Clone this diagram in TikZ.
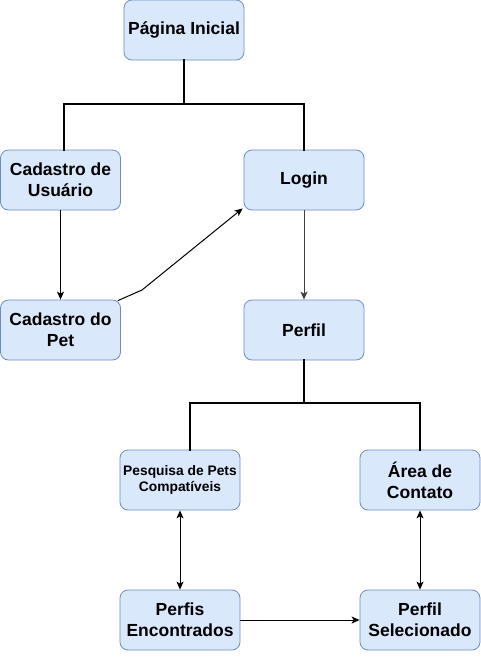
\documentclass[tikz,border=0pt]{standalone}
\usepackage{fontspec}
\setmainfont{Liberation Sans}
\usetikzlibrary{arrows.meta}
\definecolor{boxfill}{HTML}{DAE8FC}
\definecolor{boxdraw}{HTML}{6C8EBF}
\begin{document}
\begin{tikzpicture}[x=1pt,y=-1pt,
  box/.style={draw=boxdraw,fill=boxfill,rounded corners=8pt,minimum width=120pt,minimum height=60pt,inner sep=0pt,align=center,font=\bfseries\fontsize{17.5}{21}\selectfont,line width=0.8pt},
  tree/.style={line width=2pt,line cap=rect},
  arr/.style={line width=1pt,-{Stealth[length=8pt,width=7pt,inset=2pt]}},
  darr/.style={line width=1pt,{Stealth[length=8pt,width=7pt,inset=2pt]}-{Stealth[length=8pt,width=7pt,inset=2pt]}}]
\useasboundingbox (0,0) rectangle (481,657);
\node[box] (home) at (184,30) {Página Inicial};
\node[box] (cadu) at (60.5,180) {Cadastro de\\Usuário};
\node[box] (login) at (304,180) {Login};
\node[box] (cadp) at (60.5,330) {Cadastro do\\Pet};
\node[box] (perfil) at (304,330) {Perfil};
\node[box,font=\bfseries\fontsize{13.8}{16.5}\selectfont] (pesq) at (180,480) {Pesquisa de Pets\\Compatíveis};
\node[box] (area) at (420,480) {Área de\\Contato};
\node[box] (enc) at (180,620) {Perfis\\Encontrados};
\node[box] (sel) at (420,620) {Perfil\\Selecionado};
\coordinate (j1) at (184,104);
\coordinate (j2) at (304,403);
\coordinate (bend) at (142,290);
\draw[tree] (home.south) -- (j1) -| (cadu.north -| 64,0);
\draw[tree] (j1) -| (login.north);
\draw[tree] (perfil.south) -- (j2) -| (pesq.north -| 190,0);
\draw[tree] (j2) -| (area.north);
\draw[arr] (cadu.south) -- (cadp.north);
\draw[arr,black!75] (login.south) -- (perfil.north);
\draw[arr] (cadp.north east) ++(-3,1) -- (bend) -- ([xshift=-1pt,yshift=2pt]login.south west);
\draw[darr] (pesq.south) -- (enc.north);
\draw[darr] (area.south) -- (sel.north);
\draw[arr] (enc.east) -- (sel.west);
\end{tikzpicture}
\end{document}
